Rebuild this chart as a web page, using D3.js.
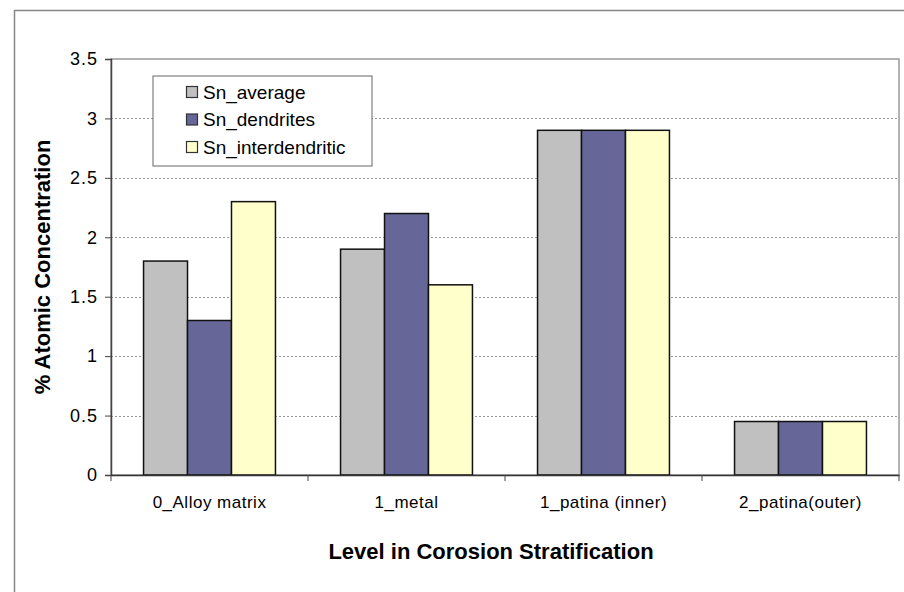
<!DOCTYPE html>
<html>
<head>
<meta charset="utf-8">
<script src="https://cdn.jsdelivr.net/npm/d3@7"></script>
<style>
  body { margin: 0; background: #fff; }
  svg { display: block; font-family: Arial, "Liberation Sans", sans-serif; }
</style>
</head>
<body>
<div id="chart"></div>
<script>
const categories = ["0_Alloy matrix", "1_metal", "1_patina (inner)", "2_patina(outer)"];
const seriesNames = ["Sn_average", "Sn_dendrites", "Sn_interdendritic"];
const snAverage = [1.8, 1.9, 2.9, 0.45];
const snDendrites = [1.3, 2.2, 2.9, 0.45];
const snInterdendritic = [2.3, 1.6, 2.9, 0.45];
const yTicks = [0, 0.5, 1, 1.5, 2, 2.5, 3, 3.5];
const colors = ["#c0c0c0", "#666699", "#ffffcc"];

const width = 904, height = 592;
const margin = { top: 59, right: 5, bottom: 117, left: 111 };

const svg = d3.select("#chart").append("svg")
  .attr("width", width)
  .attr("height", height);

// outer chart border (runs off the right/bottom edge)
svg.append("rect")
  .attr("x", 14.5).attr("y", 10.5)
  .attr("width", 1000).attr("height", 700)
  .attr("fill", "none")
  .attr("stroke", "#888")
  .attr("stroke-width", 1.5);

const x = d3.scaleBand()
  .domain(categories)
  .range([margin.left, width - margin.right]);

const xInner = d3.scaleBand()
  .domain(seriesNames)
  .range([0, x.bandwidth()])
  .paddingOuter(0.74)
  .paddingInner(0);

const y = d3.scaleLinear()
  .domain([0, 3.5])
  .range([height - margin.bottom, margin.top]);

// plot frame
svg.append("rect")
  .attr("x", margin.left).attr("y", margin.top)
  .attr("width", width - margin.right - margin.left)
  .attr("height", y(0) - margin.top)
  .attr("fill", "none")
  .attr("stroke", "#999")
  .attr("stroke-width", 1.5);

// gridlines
svg.append("g")
  .selectAll("line")
  .data(yTicks.filter(d => d > 0 && d < 3.5))
  .join("line")
  .attr("x1", margin.left).attr("x2", width - margin.right)
  .attr("y1", d => Math.round(y(d)) + 0.5).attr("y2", d => Math.round(y(d)) + 0.5)
  .attr("stroke", "#999")
  .attr("stroke-dasharray", "2,2");

const seriesData = [snAverage, snDendrites, snInterdendritic];
const rows = categories.map((c, i) => ({
  category: c,
  values: seriesNames.map((s, j) => ({ series: s, value: seriesData[j][i], color: colors[j] }))
}));

svg.append("g")
  .selectAll("g")
  .data(rows)
  .join("g")
  .attr("transform", d => `translate(${x(d.category)},0)`)
  .selectAll("rect")
  .data(d => d.values)
  .join("rect")
  .attr("x", d => xInner(d.series))
  .attr("y", d => y(d.value))
  .attr("width", xInner.bandwidth())
  .attr("height", d => y(0) - y(d.value))
  .attr("fill", d => d.color)
  .attr("stroke", "#111")
  .attr("stroke-width", 1.5);

// y axis
const yAxis = svg.append("g")
  .attr("transform", `translate(${margin.left},0)`)
  .call(d3.axisLeft(y).tickValues(yTicks).tickSize(6).tickPadding(7).tickFormat(d3.format("")));
yAxis.select(".domain").attr("stroke", "#444").attr("stroke-width", 1.5);
yAxis.selectAll(".tick line").attr("stroke", "#444");
yAxis.selectAll("text").style("font-size", "18px").style("letter-spacing", "1px").attr("fill", "#000");

// x axis
const xAxis = svg.append("g")
  .attr("transform", `translate(0,${y(0)})`)
  .call(d3.axisBottom(x).tickSize(0).tickPadding(21));
xAxis.select(".domain").attr("stroke", "#333").attr("stroke-width", 1.5);
xAxis.selectAll("text").style("font-size", "17px").style("letter-spacing", "0.5px").attr("fill", "#000");

svg.append("g")
  .selectAll("line")
  .data(d3.range(categories.length + 1))
  .join("line")
  .attr("x1", i => margin.left + i * x.step())
  .attr("x2", i => margin.left + i * x.step())
  .attr("y1", y(0)).attr("y2", y(0) + 6)
  .attr("stroke", "#444");

// axis titles
svg.append("text")
  .attr("transform", `translate(50,267) rotate(-90)`)
  .attr("text-anchor", "middle")
  .style("font-size", "22px")
  .style("font-weight", "bold")
  .text("% Atomic Concentration");

svg.append("text")
  .attr("x", 491).attr("y", 559)
  .attr("text-anchor", "middle")
  .style("font-size", "22px")
  .style("font-weight", "bold")
  .text("Level in Corosion Stratification");

// legend
const legend = svg.append("g").attr("transform", "translate(153,76)");
legend.append("rect")
  .attr("width", 219).attr("height", 90)
  .attr("fill", "#fff")
  .attr("stroke", "#666")
  .attr("stroke-width", 1);

const items = legend.selectAll(".item")
  .data(seriesNames)
  .join("g")
  .attr("class", "item")
  .attr("transform", (d, i) => `translate(33,${16 + i * 27.5})`);

items.append("rect")
  .attr("x", 0.5).attr("y", -5.5)
  .attr("width", 11).attr("height", 11)
  .attr("fill", (d, i) => colors[i])
  .attr("stroke", "#333")
  .attr("stroke-width", 1.2);

items.append("text")
  .attr("x", 17).attr("y", 6.5)
  .style("font-size", "19px")
  .text(d => d);
</script>
</body>
</html>
